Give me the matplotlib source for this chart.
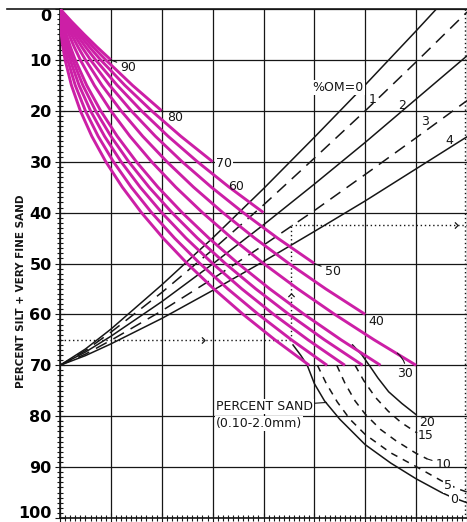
import matplotlib.pyplot as plt
from matplotlib.ticker import MultipleLocator

# percent silt + very fine sand at which the magenta sand curves were read
silt_steps = [0, 2.5, 5, 7.5, 10, 15, 20, 25, 30, 35, 40, 45, 50, 55, 60, 65, 70]

# magenta percent-sand curves: x read at each silt step
sand_pct = [90, 80, 70, 60, 50, 40, 30, 20, 15, 10, 5, 0]
sand_x = [
    [0, 2.31, 4.75, 7.31, 10],
    [0, 2.06, 4.25, 6.56, 9, 14.25, 20],
    [0, 1.81, 3.75, 5.81, 8, 12.75, 18, 23.75, 30],
    [0, 1.56, 3.25, 5.06, 7, 11.25, 16, 21.25, 27, 33.25, 40],
    [0, 1.31, 2.75, 4.31, 6, 9.75, 14, 18.75, 24, 29.75, 36, 42.75, 50],
    [0, 1.06, 2.25, 3.56, 5, 8.25, 12, 16.25, 21, 26.25, 32, 38.25, 45, 52.25, 60],
    [0, 0.81, 1.75, 2.81, 4, 6.75, 10, 13.75, 18, 22.75, 28, 33.75, 40, 46.75, 54, 61.75, 70],
    [0, 0.56, 1.25, 2.06, 3, 5.25, 8, 11.25, 15, 19.25, 24, 29.25, 35, 41.25, 48, 55.25, 63],
    [0, 0.44, 1.0, 1.69, 2.5, 4.5, 7, 10, 13.5, 17.5, 22, 27, 32.5, 38.5, 45, 52, 59.5],
    [0, 0.31, 0.75, 1.31, 2, 3.75, 6, 8.75, 12, 15.75, 20, 24.75, 30, 35.75, 42, 48.75, 56],
    [0, 0.19, 0.5, 0.94, 1.5, 3, 5, 7.5, 10.5, 14, 18, 22.5, 27.5, 33, 39, 45.5, 52.5],
    [0, 0.06, 0.25, 0.56, 1, 2.25, 4, 6.25, 9, 12.25, 16, 20.25, 25, 30.25, 36, 42.25, 49],
]

# black sand curves below 70 % silt
low_sand = [0, 5, 10, 15, 20]
low_x = [
    [45.8, 47.3, 48.6, 50, 52, 55, 60, 65, 70, 75, 77, 80],
    [50.6, 52.3, 54.5, 57, 60, 65, 70, 75, 78, 80],
    [54.4, 56, 58, 60, 63, 66, 70, 72.2],
    [58, 59.7, 62, 64.5, 67, 70.2],
    [57.5, 59.3, 61, 62.5, 64.6, 67.2, 70],
]
low_y = [
    [66, 68, 70, 73.6, 77, 80.6, 85.6, 89.2, 92.3, 95, 95.9, 97],
    [70, 73.5, 77.2, 80.6, 83.6, 87.2, 89.9, 92.7, 94.2, 94.9],
    [70, 73.5, 77, 79.6, 82.6, 84.8, 87.3, 88.4],
    [70, 73, 76.3, 79, 81.2, 83.3],
    [66, 67.9, 70.3, 72.5, 75.2, 77.5, 79.7],
]

# % organic matter lines
om_pct = [0, 1, 2, 3, 4]
om_x = [0, 5, 10, 20, 30, 40, 50, 60, 70, 80]
om_y = [
    [70, 66.8, 62.9, 54.2, 45.0, 35.3, 25.2, 14.9, 4.3, -6.5],
    [70, 67.1, 63.5, 55.7, 47.3, 38.5, 29.3, 20.0, 10.4, 0.6],
    [70, 67.4, 64.3, 57.5, 50.1, 42.4, 34.4, 26.2, 17.7, 9.2],
    [70, 67.8, 65.1, 59.3, 53.0, 46.4, 39.6, 32.5, 25.3, 18.0],
    [70, 68.1, 65.8, 60.8, 55.3, 49.6, 43.7, 37.7, 31.4, 25.1],
]

# dotted worked example
ex_silt = 65
ex_x = 45.5
ex_om = 42.4

MAG = '#cc1fa6'
INK = '#161616'

fig = plt.figure(figsize=(4.67, 5.22), dpi=100)
ax = fig.add_axes([60 / 467, 4 / 522, 407 / 467, 509 / 522])
ax.set_xlim(0, 80)
ax.set_ylim(100, 0)

for s in ['top', 'right']:
    ax.spines[s].set_visible(False)
for s in ['left', 'bottom']:
    ax.spines[s].set_linewidth(1.2)
    ax.spines[s].set_color(INK)

ax.set_yticks(range(0, 101, 10))
ax.yaxis.set_minor_locator(MultipleLocator(1))
ax.set_xticks(range(0, 81, 10))
ax.xaxis.set_minor_locator(MultipleLocator(1))
ax.set_xticklabels([])
ax.tick_params(which='both', direction='inout', color=INK, width=0.8)
ax.tick_params(which='major', length=7)
ax.tick_params(which='minor', length=4)
ax.tick_params(axis='y', pad=2.5, labelsize=11.5)
for lab in ax.get_yticklabels():
    lab.set_fontweight('bold')
ax.get_yticklabels()[0].set_va('top')
ax.get_yticklabels()[-1].set_va('baseline')

ax.grid(True, which='major', color=INK, lw=0.9)
ax.set_axisbelow(True)
ax.plot([-10.4, 80], [0, 0], color=INK, lw=1.2, clip_on=False)
ax.plot([79.6, 79.6], [0, 100], color=INK, lw=1.0, ls=(0, (1, 2)), clip_on=False)

fig.text(21 / 467, 0.4425, 'PERCENT SILT + VERY FINE SAND', rotation=90,
         ha='center', va='center', fontsize=7.5, fontweight='bold', color=INK)

# organic matter lines
for om, ys in zip(om_pct, om_y):
    ls = '-' if om % 2 == 0 else (0, (8, 5))
    ax.plot(om_x, ys, color=INK, lw=1.1, ls=ls, zorder=3)

# black sand curves
for s, xs, ys in zip(low_sand, low_x, low_y):
    ls = '-' if s in (0, 20) else (0, (4.5, 4))
    ax.plot(xs, ys, color=INK, lw=1.1, ls=ls, zorder=2)

# dotted example path
dot = dict(color=INK, lw=1.0, ls=(0, (1, 2)), zorder=3.5)
ax.plot([0, ex_x], [ex_silt, ex_silt], **dot)
ax.plot([ex_x, ex_x], [ex_silt, ex_om], **dot)
ax.plot([ex_x, 80], [ex_om, ex_om], **dot)
right_chev = [(-0.5, -1), (0.5, 0), (-0.5, 1)]
up_chev = [(-1, -0.5), (0, 0.5), (1, -0.5)]
mk = dict(ls='none', ms=4.5, mfc='none', mec=INK, mew=0.9, zorder=3.6)
ax.plot(28.2, ex_silt, marker=right_chev, **mk)
ax.plot(ex_x, 56.2, marker=up_chev, **mk)
ax.plot(77.9, ex_om, marker=right_chev, **mk)

# magenta sand curves
for xs in sand_x:
    ax.plot(xs, silt_steps[:len(xs)], color=MAG, lw=2.1, zorder=4,
            solid_capstyle='butt', solid_joinstyle='round')

txt = dict(fontsize=9, color=INK, ha='center', va='center', zorder=6)
lead = dict(arrowstyle='-', color=INK, lw=0.8, shrinkA=1, shrinkB=0)
white = dict(facecolor='white', edgecolor='none', pad=0.6)

sand_lab = {90: (13.5, 11.4), 80: (22.7, 21.3), 50: (53.7, 51.5), 40: (62.2, 61.4)}
for s, xs in zip(sand_pct, sand_x):
    if s in sand_lab:
        end = (xs[-1], silt_steps[len(xs) - 1])
        ax.annotate(str(s), xy=end, xytext=sand_lab[s], arrowprops=lead, **txt)
ax.text(32.3, 30.3, '70', bbox=white, **txt)
ax.text(34.6, 34.8, '60', **txt)
ax.annotate('30', xy=(66.3, 67.6), xytext=(67.8, 71.7),
            arrowprops=dict(lead, connectionstyle='arc3,rad=0.3'), **txt)

ax.text(54.7, 15.4, '%OM=0', bbox=white, **txt)
om_lab = {1: (61.4, 17.8), 2: (67.3, 18.9), 3: (71.7, 22.1), 4: (76.6, 25.9)}
for om in om_pct[1:]:
    ax.text(*om_lab[om], str(om), **txt)

ax.text(72.2, 81.2, '20', **txt)
ax.text(71.9, 83.8, '15', **txt)
ax.annotate('10', xy=(low_x[2][-1], low_y[2][-1]), xytext=(75.5, 89.4),
            arrowprops=lead, **txt)
ax.text(76.3, 93.7, '5', bbox=white, **txt)
ax.text(77.4, 96.3, '0', bbox=white, **txt)

ax.annotate('PERCENT SAND', xy=(52.4, 77.3), xytext=(30.6, 78.1),
            arrowprops=dict(lead, shrinkA=0),
            bbox=white, **dict(txt, ha='left'))
ax.text(30.6, 81.5, '(0.10-2.0mm)', bbox=white, **dict(txt, ha='left'))

fig.savefig('out.png', dpi=100)
